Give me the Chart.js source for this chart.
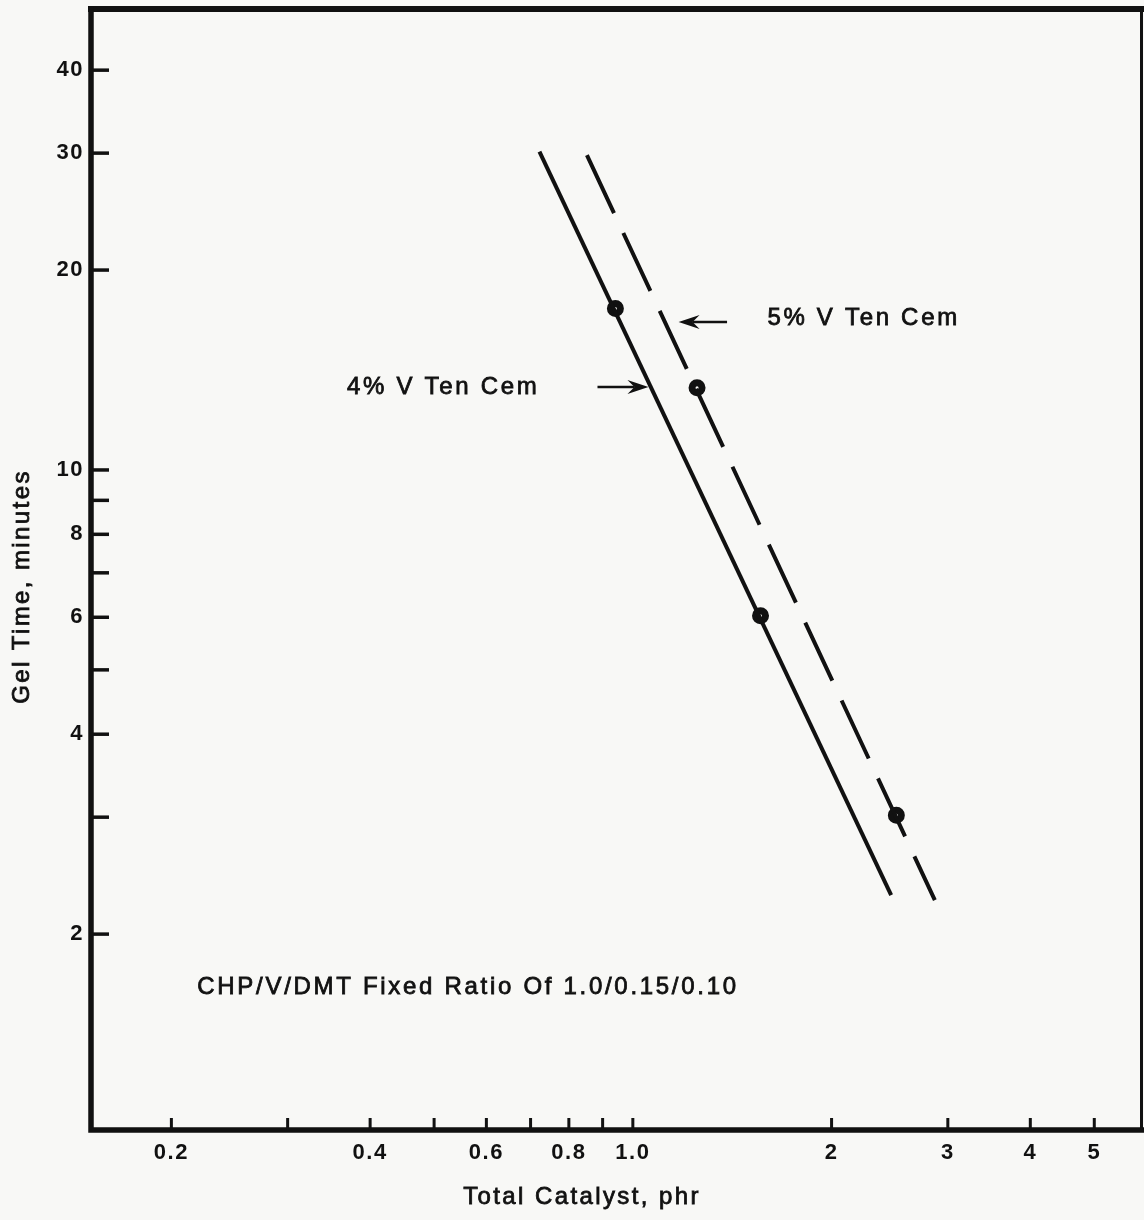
<!DOCTYPE html>
<html>
<head>
<meta charset="utf-8">
<script src="https://cdn.jsdelivr.net/npm/chart.js@4"></script>
<style>
  html, body { margin: 0; padding: 0; background: #f8f8f6; overflow: hidden; }
  canvas { display: block; }
</style>
</head>
<body>
<canvas id="gelChart" width="1144" height="1220"></canvas>
<script>
// axis ticks (log-log paper)
const catalystTicks = [0.2, 0.3, 0.4, 0.5, 0.6, 0.7, 0.8, 0.9, 1.0, 2, 3, 4, 5];
const catalystLabels = ['0.2', '', '0.4', '', '0.6', '', '0.8', '', '1.0', '2', '3', '4', '5'];
const gelTicks = [2, 3, 4, 5, 6, 7, 8, 9, 10, 20, 30, 40];
const gelLabels = ['2', '', '4', '', '6', '', '8', '', '10', '20', '30', '40'];

// measured points
const catalyst4 = [0.941, 1.561];
const gel4 = [17.5, 6.03];
const catalyst5 = [1.251, 2.507];
const gel5 = [13.3, 3.02];

// drawn lines (end points)
const fit4Catalyst = [0.722, 2.462];
const fit4Gel = [30.15, 2.29];
const fit5Catalyst = [0.852, 2.867];
const fit5Gel = [29.8, 2.25];

const xRange = [0.1511, 5.895];
const yRange = [1.014, 49.45];

// text notes, placed in data units
const notes = [
    { text: '5% V Ten Cem', x: 1.599, y: 16.94 },
    { text: '4% V Ten Cem', x: 0.369, y: 13.33 },
    { text: 'CHP/V/DMT Fixed Ratio Of 1.0/0.15/0.10', x: 0.2189, y: 1.66 }
];
const arrows = [
    { from: [1.389, 16.71], to: [1.173, 16.71] },
    { from: [0.884, 13.33], to: [1.056, 13.33] }
];

const ink = '#111111';
const paper = '#f8f8f6';
const fontFamily = "'Liberation Sans', Arial, Helvetica, sans-serif";

function toPoints(xs, ys) {
    return xs.map((x, i) => ({ x: x, y: ys[i] }));
}

function drawArrow(ctx, x1, y1, x2, y2) {
    const ang = Math.atan2(y2 - y1, x2 - x1);
    const head = 21, half = 7, notch = 14;
    ctx.save();
    ctx.strokeStyle = ink;
    ctx.fillStyle = ink;
    ctx.lineWidth = 2.5;
    ctx.beginPath();
    ctx.moveTo(x1, y1);
    ctx.lineTo(x2 - Math.cos(ang) * notch, y2 - Math.sin(ang) * notch);
    ctx.stroke();
    ctx.translate(x2, y2);
    ctx.rotate(ang);
    ctx.beginPath();
    ctx.moveTo(0, 0);
    ctx.lineTo(-head, -half);
    ctx.lineTo(-notch, 0);
    ctx.lineTo(-head, half);
    ctx.closePath();
    ctx.fill();
    ctx.restore();
}

// fill + thin stroke so the type looks as heavy as the print
function heavyText(ctx, text, x, y) {
    ctx.fillText(text, x, y);
    ctx.strokeText(text, x, y);
}

const paperPlugin = {
    id: 'paper',
    beforeDraw(chart) {
        chart.ctx.letterSpacing = '1.5px';
    },
    afterDraw(chart) {
        const ctx = chart.ctx;
        const a = chart.chartArea;
        const xs = chart.scales.x, ys = chart.scales.y;
        ctx.save();
        ctx.strokeStyle = ink;
        ctx.lineCap = 'square';

        // frame
        ctx.lineWidth = 6;
        ctx.beginPath(); ctx.moveTo(a.left, a.top); ctx.lineTo(a.right, a.top); ctx.stroke();
        ctx.lineWidth = 5.5;
        ctx.beginPath(); ctx.moveTo(a.left, a.top); ctx.lineTo(a.left, a.bottom); ctx.lineTo(a.right, a.bottom); ctx.stroke();
        ctx.lineWidth = 3;
        ctx.beginPath(); ctx.moveTo(a.right, a.top); ctx.lineTo(a.right, a.bottom); ctx.stroke();

        // inward ticks
        ctx.lineCap = 'butt';
        ctx.lineWidth = 3.5;
        gelTicks.forEach(v => {
            const py = ys.getPixelForValue(v);
            ctx.beginPath(); ctx.moveTo(a.left, py); ctx.lineTo(a.left + 18, py); ctx.stroke();
        });
        ctx.lineWidth = 3;
        catalystTicks.forEach(v => {
            const px = xs.getPixelForValue(v);
            ctx.beginPath(); ctx.moveTo(px, a.bottom); ctx.lineTo(px, a.bottom - 12); ctx.stroke();
        });

        // notes and arrows
        ctx.fillStyle = ink;
        ctx.lineWidth = 0.8;
        ctx.font = '24px ' + fontFamily;
        ctx.letterSpacing = '2.7px';
        ctx.textAlign = 'left';
        ctx.textBaseline = 'middle';
        notes.forEach(n => {
            heavyText(ctx, n.text, xs.getPixelForValue(n.x), ys.getPixelForValue(n.y));
        });
        arrows.forEach(ar => {
            drawArrow(ctx,
                xs.getPixelForValue(ar.from[0]), ys.getPixelForValue(ar.from[1]),
                xs.getPixelForValue(ar.to[0]), ys.getPixelForValue(ar.to[1]));
        });

        // axis titles
        ctx.lineWidth = 0.8;
        ctx.letterSpacing = '2.4px';
        ctx.textAlign = 'center';
        heavyText(ctx, 'Total Catalyst, phr', 582, a.bottom + 67);
        ctx.translate(22, (a.top + a.bottom) / 2 + 17);
        ctx.rotate(-Math.PI / 2);
        heavyText(ctx, 'Gel Time, minutes', 0, 0);
        ctx.restore();
        ctx.letterSpacing = '0px';
    }
};

const pointStyle = {
    showLine: false,
    pointRadius: 5,
    pointBorderWidth: 7,
    pointBorderColor: ink,
    pointBackgroundColor: paper
};

const ctx = document.getElementById('gelChart').getContext('2d');
new Chart(ctx, {
    type: 'scatter',
    data: {
        datasets: [
            {
                label: '4% V Ten Cem line',
                data: toPoints(fit4Catalyst, fit4Gel),
                showLine: true,
                borderColor: ink,
                borderWidth: 4,
                pointRadius: 0
            },
            {
                label: '5% V Ten Cem line',
                data: toPoints(fit5Catalyst, fit5Gel),
                showLine: true,
                borderColor: ink,
                borderWidth: 4,
                borderDash: [64, 22],
                pointRadius: 0
            },
            Object.assign({ label: '4% V Ten Cem', data: toPoints(catalyst4, gel4) }, pointStyle),
            Object.assign({ label: '5% V Ten Cem', data: toPoints(catalyst5, gel5) }, pointStyle)
        ]
    },
    options: {
        responsive: false,
        animation: false,
        layout: { autoPadding: false, padding: { top: 9, right: 2.5, left: 0, bottom: 0 } },
        plugins: {
            legend: { display: false },
            tooltip: { enabled: false }
        },
        scales: {
            x: {
                type: 'logarithmic',
                position: 'bottom',
                min: xRange[0],
                max: xRange[1],
                grid: { display: false, drawTicks: false },
                border: { display: false },
                afterBuildTicks: scale => { scale.ticks = catalystTicks.map(v => ({ value: v })); },
                afterFit: scale => {
                    scale.height = 90;
                    scale.paddingLeft = 0;
                    scale.paddingRight = 0;
                },
                ticks: {
                    autoSkip: false,
                    maxRotation: 0,
                    padding: 10,
                    color: ink,
                    font: { family: fontFamily, size: 22, weight: 'bold' },
                    callback: (value, index) => catalystLabels[index]
                }
            },
            y: {
                type: 'logarithmic',
                position: 'left',
                min: yRange[0],
                max: yRange[1],
                grid: { display: false, drawTicks: false },
                border: { display: false },
                afterBuildTicks: scale => { scale.ticks = gelTicks.map(v => ({ value: v })); },
                afterFit: scale => {
                    scale.width = 91;
                    scale.paddingTop = 0;
                    scale.paddingBottom = 0;
                },
                ticks: {
                    autoSkip: false,
                    padding: 7,
                    color: ink,
                    font: { family: fontFamily, size: 22, weight: 'bold' },
                    callback: (value, index) => gelLabels[index]
                }
            }
        }
    },
    plugins: [paperPlugin]
});
</script>
</body>
</html>
